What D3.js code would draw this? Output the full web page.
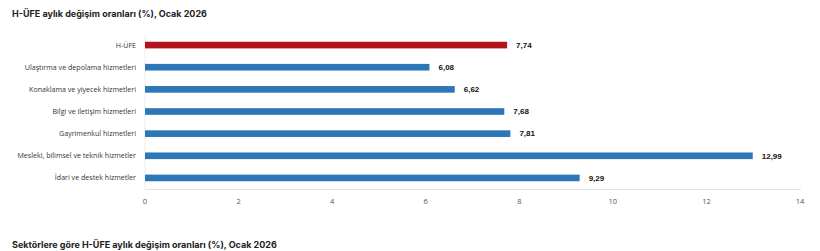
<!DOCTYPE html>
<html>
<head>
<meta charset="utf-8">
<script src="https://cdn.jsdelivr.net/npm/d3@7"></script>
<style>
  body { margin: 0; background: #fff; }
  .title { font-family: Inter, "Noto Sans", sans-serif; font-weight: 700; font-size: 9px; fill: #222; }
</style>
</head>
<body>
<svg width="820" height="251"></svg>
<script>
var categories = ["H-ÜFE", "Ulaştırma ve depolama hizmetleri", "Konaklama ve yiyecek hizmetleri",
    "Bilgi ve iletişim hizmetleri", "Gayrimenkul hizmetleri", "Mesleki, bilimsel ve teknik hizmetler",
    "İdari ve destek hizmetler"];
var values = [7.74, 6.08, 6.62, 7.68, 7.81, 12.99, 9.29];
var xTicks = [0, 2, 4, 6, 8, 10, 12, 14];

var svg = d3.select("svg");

var x = d3.scaleLinear()
    .domain([0, 14])
    .range([145, 800]);
var y = d3.scaleBand()
    .domain(categories)
    .range([34, 189])
    .paddingInner(0.7)
    .paddingOuter(0.35);

svg.append("text")
    .attr("class", "title")
    .attr("x", 12)
    .attr("y", 17)
    .text("H-ÜFE aylık değişim oranları (%), Ocak 2026");

// faint axis lines
svg.append("line")
    .attr("x1", 145).attr("x2", 145)
    .attr("y1", 34).attr("y2", 189)
    .style("stroke", "#eee");
svg.append("line")
    .attr("x1", 145).attr("x2", 801)
    .attr("y1", 189.5).attr("y2", 189.5)
    .style("stroke", "#e2e2e2");

svg.append("g")
    .selectAll("rect")
    .data(values)
    .enter()
    .append("rect")
    .attr("x", x(0))
    .attr("y", function(d, i) { return y(categories[i]); })
    .attr("width", function(d) { return x(d) - x(0); })
    .attr("height", y.bandwidth())
    .attr("fill", function(d, i) { return i == 0 ? "#B3131D" : "#2D76B8"; });

// category labels
svg.append("g")
    .selectAll("text")
    .data(categories)
    .enter()
    .append("text")
    .attr("x", 136)
    .attr("y", function(d) { return y(d) + y.bandwidth() / 2; })
    .attr("dy", "0.35em")
    .attr("text-anchor", "end")
    .style("font-family", "'Open Sans', sans-serif")
    .style("font-size", "7.1px")
    .style("fill", "#333")
    .text(function(d) { return d; });

// value labels
svg.append("g")
    .selectAll("text")
    .data(values)
    .enter()
    .append("text")
    .attr("x", function(d) { return x(d) + 9; })
    .attr("y", function(d, i) { return y(categories[i]) + y.bandwidth() / 2; })
    .attr("dy", "0.35em")
    .style("font-family", "'Liberation Sans', Arial, sans-serif")
    .style("font-weight", "bold")
    .style("font-size", "8px")
    .style("fill", "#111")
    .text(function(d) { return d.toFixed(2).replace(".", ","); });

// x tick labels
svg.append("g")
    .selectAll("text")
    .data(xTicks)
    .enter()
    .append("text")
    .attr("x", function(d) { return x(d); })
    .attr("y", 201)
    .attr("dy", "0.35em")
    .attr("text-anchor", "middle")
    .style("font-family", "'Open Sans', sans-serif")
    .style("font-size", "7.5px")
    .style("fill", "#555")
    .text(function(d) { return d; });

svg.append("text")
    .attr("class", "title")
    .attr("x", 12)
    .attr("y", 248)
    .text("Sektörlere göre H-ÜFE aylık değişim oranları (%), Ocak 2026");
</script>
</body>
</html>
